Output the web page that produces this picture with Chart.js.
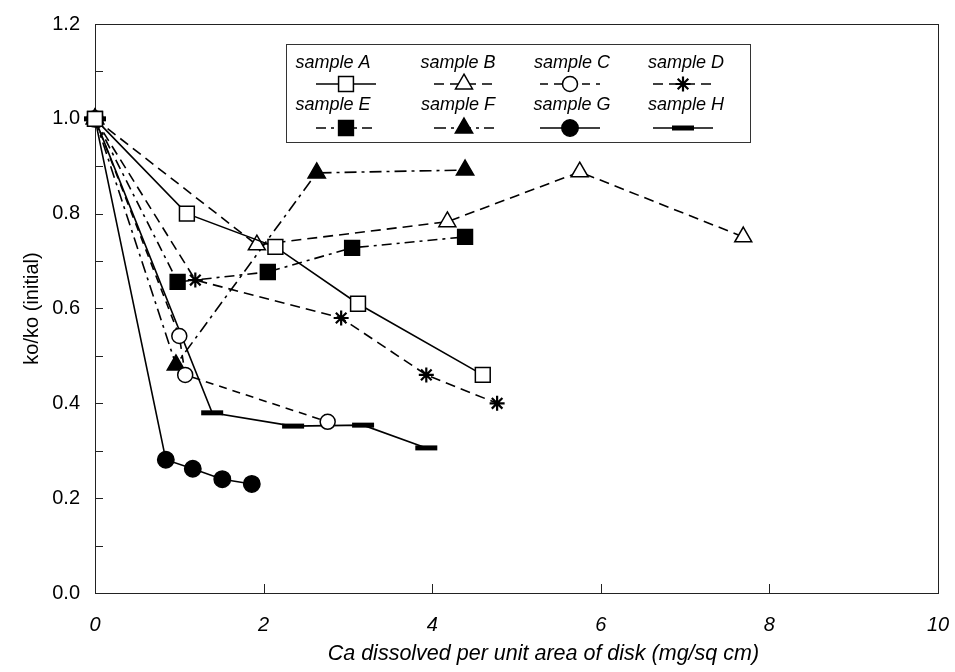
<!DOCTYPE html>
<html>
<head>
<meta charset="utf-8">
<script src="https://cdn.jsdelivr.net/npm/chart.js@4.4.1/dist/chart.umd.min.js"></script>
<style>
  html, body { margin: 0; padding: 0; background: #fff; }
  #wrap { width: 955px; height: 672px; }
</style>
</head>
<body>
<div id="wrap"><canvas id="chart" width="955" height="672"></canvas></div>
<script>
// valeurs
const sampleNames = ["sample A", "sample B", "sample C", "sample D", "sample E", "sample F", "sample G", "sample H"];

const xA = [0, 1.09, 2.14, 3.12, 4.60];
const yA = [1.0, 0.80, 0.73, 0.61, 0.46];
const xB = [0, 1.92, 4.18, 5.75, 7.69];
const yB = [1.0, 0.734, 0.783, 0.888, 0.751];
const xC = [0, 1.0, 1.07, 2.76];
const yC = [1.0, 0.542, 0.46, 0.361];
const xD = [0, 1.19, 2.92, 3.93, 4.77];
const yD = [1.0, 0.66, 0.58, 0.46, 0.40];
const xE = [0, 0.98, 2.05, 3.05, 4.39];
const yE = [1.0, 0.656, 0.677, 0.728, 0.751];
const xF = [0, 0.96, 2.63, 4.39];
const yF = [1.0, 0.481, 0.886, 0.892];
const xG = [0, 0.84, 1.16, 1.51, 1.86];
const yG = [1.0, 0.281, 0.262, 0.24, 0.23];
const xH = [0, 1.39, 2.35, 3.18, 3.93];
const yH = [1.0, 0.38, 0.352, 0.354, 0.306];

const xTicks = [0, 2, 4, 6, 8, 10];
const yTicks = [0.0, 0.2, 0.4, 0.6, 0.8, 1.0, 1.2];

const FONT = "'Liberation Sans', Arial, Helvetica, sans-serif";

function pts(xs, ys) {
  return xs.map((x, i) => ({ x: x, y: ys[i] }));
}

// style de chaque série
function serie(label, xs, ys, style) {
  return Object.assign({
    label: label,
    data: pts(xs, ys),
    showLine: true,
    clip: false,
    borderColor: "#000",
    borderWidth: 1.6,
    pointBorderColor: "#000",
    pointBorderWidth: 1.5,
    pointHoverRadius: 0,
  }, style);
}

const datasets = [
  serie(sampleNames[0], xA, yA, { borderDash: [], pointStyle: "rect", pointRadius: 10.5, pointBackgroundColor: "#fff" }),
  serie(sampleNames[1], xB, yB, { borderDash: [10, 6], pointStyle: "triangle", pointRadius: 9.8, pointBackgroundColor: "#fff" }),
  serie(sampleNames[2], xC, yC, { borderDash: [8, 6], pointStyle: "circle", pointRadius: 7.5, pointBackgroundColor: "#fff" }),
  serie(sampleNames[3], xD, yD, { borderDash: [10, 6], pointStyle: "star", pointRadius: 7.5, pointBorderWidth: 2.2, pointBackgroundColor: "#000" }),
  serie(sampleNames[4], xE, yE, { borderDash: [10, 5, 3, 5], pointStyle: "rect", pointRadius: 10.5, pointBackgroundColor: "#000" }),
  serie(sampleNames[5], xF, yF, { borderDash: [12, 5, 3, 5], pointStyle: "triangle", pointRadius: 10, pointBackgroundColor: "#000" }),
  serie(sampleNames[6], xG, yG, { borderDash: [], pointStyle: "circle", pointRadius: 8.2, pointBackgroundColor: "#000" }),
  serie(sampleNames[7], xH, yH, { borderDash: [], pointStyle: "line", pointRadius: 11, pointBorderWidth: 5, pointBackgroundColor: "#000" }),
];

// cadre + graduations vers l'intérieur
const innerTicks = {
  id: "innerTicks",
  beforeDatasetsDraw(chart) {
    const { ctx, chartArea: a, scales } = chart;
    const x = scales.x, y = scales.y;
    ctx.save();
    ctx.strokeStyle = "#222";
    ctx.lineWidth = 1;
    ctx.setLineDash([]);
    ctx.strokeRect(Math.round(a.left) + 0.5, Math.round(a.top) + 0.5, Math.round(a.right - a.left), Math.round(a.bottom - a.top));
    ctx.beginPath();
    for (let i = 1; i < yTicks.length * 2 - 2; i++) {
      const v = i * 0.1;
      const py = Math.round(y.getPixelForValue(v)) + 0.5;
      ctx.moveTo(a.left, py);
      ctx.lineTo(a.left + 8, py);
    }
    xTicks.slice(1, -1).forEach((v) => {
      const px = Math.round(x.getPixelForValue(v)) + 0.5;
      ctx.moveTo(px, a.bottom);
      ctx.lineTo(px, a.bottom - 9);
    });
    ctx.stroke();
    ctx.restore();
  },
};

// légende dans le graphe : texte au-dessus, symbole en dessous
const legendTextX = [333, 458, 572, 686];
const legendMarkX = [346, 464, 570, 683];
const sampleLegend = {
  id: "sampleLegend",
  afterDatasetsDraw(chart) {
    const ctx = chart.ctx;
    ctx.save();
    ctx.fillStyle = "#fff";
    ctx.fillRect(286, 44, 464, 98);
    ctx.strokeStyle = "#333";
    ctx.lineWidth = 1;
    ctx.setLineDash([]);
    ctx.strokeRect(286.5, 44.5, 464, 98);
    chart.data.datasets.forEach((ds, i) => {
      const col = i % 4, row = Math.floor(i / 4);
      const ty = 63 + row * 42;
      const my = 84 + row * 44;
      ctx.fillStyle = "#000";
      ctx.font = "italic 18px " + FONT;
      ctx.textAlign = "center";
      ctx.textBaseline = "middle";
      ctx.fillText(ds.label, legendTextX[col], ty);
      const cx = legendMarkX[col];
      ctx.strokeStyle = "#000";
      ctx.lineWidth = ds.borderWidth;
      ctx.setLineDash(ds.borderDash);
      ctx.beginPath();
      ctx.moveTo(cx - 30, my);
      ctx.lineTo(cx + 30, my);
      ctx.stroke();
      ctx.setLineDash([]);
      ctx.fillStyle = ds.pointBackgroundColor;
      ctx.lineWidth = ds.pointBorderWidth;
      Chart.helpers.drawPoint(ctx, {
        pointStyle: ds.pointStyle,
        radius: ds.pointRadius,
        rotation: 0,
        borderWidth: ds.pointBorderWidth,
      }, cx, my);
    });
    ctx.restore();
  },
};

new Chart(document.getElementById("chart"), {
  type: "scatter",
  data: { datasets },
  options: {
    responsive: false,
    animation: false,
    layout: { padding: { top: 24, right: 17, left: 0, bottom: 0 } },
    plugins: { legend: { display: false }, tooltip: { enabled: false } },
    scales: {
      x: {
        type: "linear",
        min: 0,
        max: 10,
        afterBuildTicks: (s) => { s.ticks = xTicks.map((v) => ({ value: v })); },
        afterFit: (s) => {
          s.height = 79;
          s.paddingLeft = 0;
          s.paddingRight = 0;
        },
        grid: { display: false, drawTicks: false },
        border: { display: true, color: "#222" },
        ticks: {
          padding: 20,
          color: "#000",
          font: { family: FONT, size: 20, style: "italic" },
          callback: (v) => String(v),
        },
        title: {
          display: true,
          // espaces insécables : le titre est décalé vers la droite dans l'original
          text: "\u00a0".repeat(9) + "Ca dissolved per unit area of disk (mg/sq cm)",
          color: "#000",
          font: { family: FONT, size: 21.5, style: "italic" },
          padding: { top: 0, bottom: 5 },
        },
      },
      y: {
        type: "linear",
        min: 0,
        max: 1.2,
        afterBuildTicks: (s) => { s.ticks = yTicks.map((v) => ({ value: v })); },
        afterFit: (s) => {
          s.width = 95;
          s.paddingTop = 0;
          s.paddingBottom = 0;
        },
        grid: { display: false, drawTicks: false },
        border: { display: true, color: "#222" },
        ticks: {
          padding: 15,
          color: "#000",
          font: { family: FONT, size: 20 },
          callback: (v) => Number(v).toFixed(1),
        },
        title: {
          display: true,
          text: "ko/ko (initial)",
          color: "#000",
          font: { family: FONT, size: 20 },
          padding: { top: 20, bottom: 0 },
        },
      },
    },
  },
  plugins: [innerTicks, sampleLegend],
});
</script>
</body>
</html>
